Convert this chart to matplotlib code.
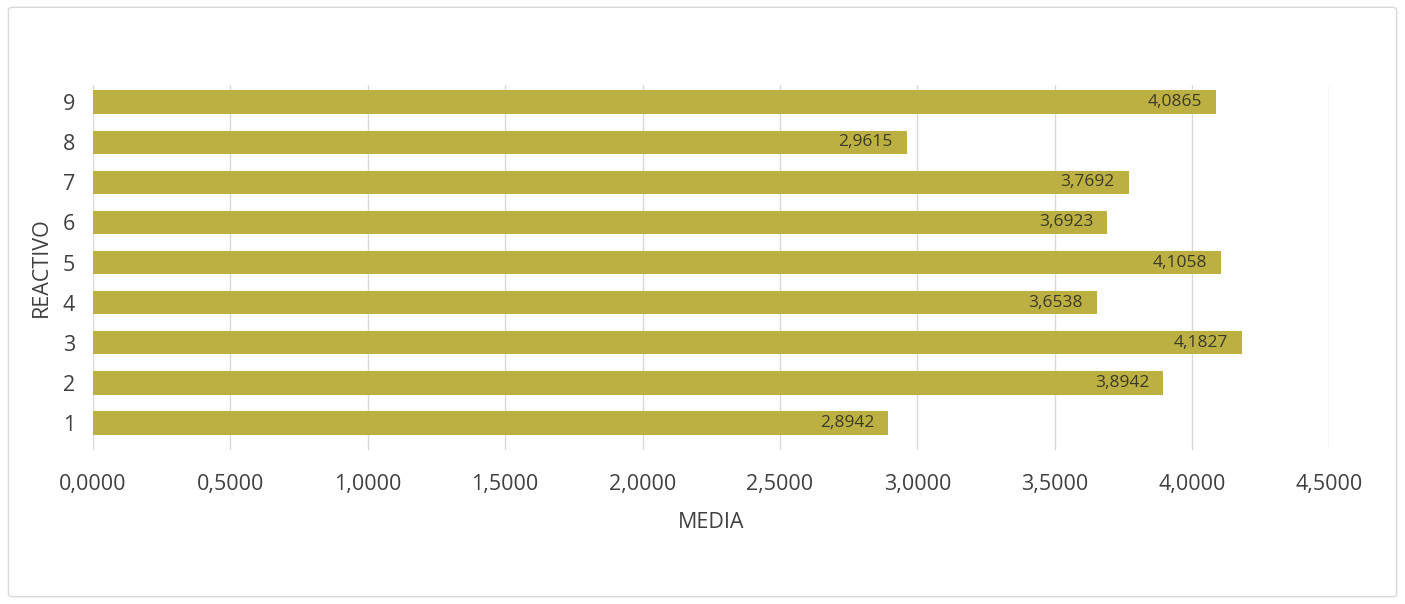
import matplotlib.pyplot as plt
from matplotlib.patches import FancyBboxPatch

reactivos = [1, 2, 3, 4, 5, 6, 7, 8, 9]
medias = [2.8942, 3.8942, 4.1827, 3.6538, 4.1058, 3.6923, 3.7692, 2.9615, 4.0865]
xticks = [0, 0.5, 1.0, 1.5, 2.0, 2.5, 3.0, 3.5, 4.0, 4.5]

BAR = "#bdb043"
TEXT = "#404040"

plt.rcParams["font.family"] = ["Open Sans", "DejaVu Sans"]

fig = plt.figure(figsize=(14.05, 6.04), dpi=100)
fig.patches.append(FancyBboxPatch((0.006, 0.012), 0.988, 0.976, boxstyle="round,pad=0,rounding_size=0.004",
                                  transform=fig.transFigure, fill=False, edgecolor="#d9d9d9", linewidth=1))

ax = fig.add_axes([0.0662, 0.255, 0.880, 0.604])
ax.barh(reactivos, medias, height=0.58, color=BAR, zorder=2)

for y, v in zip(reactivos, medias):
    ax.text(v - 0.05, y, f"{v:.4f}".replace(".", ","), ha="right", va="center",
            fontsize=12.5, color="#3a3a2a", zorder=3)

ax.set_xlim(0, 4.5)
ax.set_ylim(0.33, 9.42)
ax.set_xticks(xticks)
ax.set_xticklabels([f"{t:.4f}".replace(".", ",") for t in xticks])
ax.set_yticks(reactivos)
ax.tick_params(axis="both", length=0, labelsize=15.5, labelcolor=TEXT)
ax.tick_params(axis="x", pad=17.5)
ax.tick_params(axis="y", pad=13)
ax.grid(axis="x", color="#d9d9d9", linewidth=1, zorder=0)
for s in ax.spines.values():
    s.set_visible(False)

ax.set_xlabel("MEDIA", fontsize=15.5, color=TEXT, labelpad=12)
ax.set_ylabel("REACTIVO", fontsize=15.5, color=TEXT, labelpad=8)

fig.savefig("out.png", dpi=100)
